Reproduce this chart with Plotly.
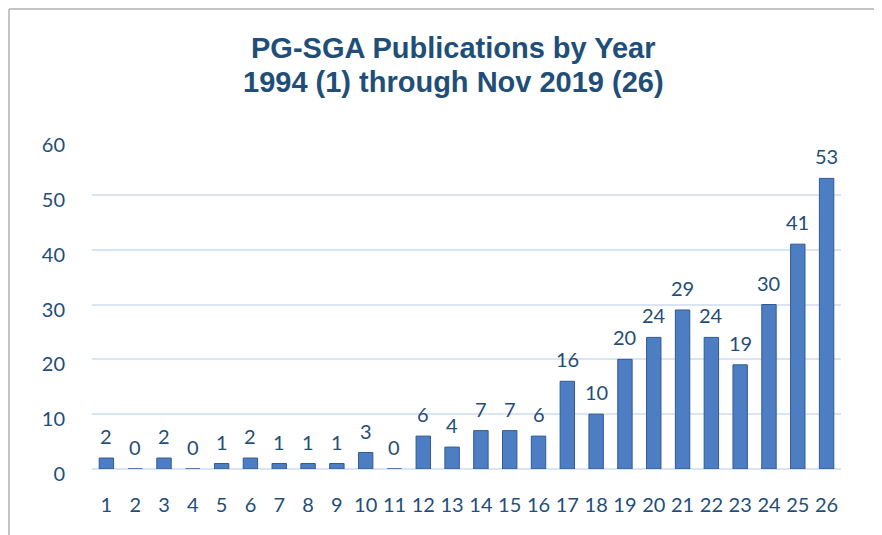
import plotly.graph_objects as go

years = list(range(1, 27))
counts = [2, 0, 2, 0, 1, 2, 1, 1, 1, 3, 0, 6, 4, 7, 7, 6, 16, 10, 20, 24, 29, 24, 19, 30, 41, 53]
y_ticks = [0, 10, 20, 30, 40, 50, 60]
title_lines = ["PG-SGA Publications by Year", "1994 (1) through Nov 2019 (26)"]

TXT = "#1F4E79"
# page body has an 8px margin, so the figure is drawn 8px in from the window corner
W, H = 874, 527
L, R, T, B = 84, 41, 132, 66
pw, ph = W - L - R, H - T - B

fig = go.Figure()
fig.add_trace(go.Bar(
    x=years, y=counts,
    marker=dict(color="#4D7EC3", line=dict(color="#2F5A92", width=1)),
    width=0.5,
    hoverinfo="x+y",
))

for x, v in zip(years, counts):
    fig.add_annotation(x=x, y=v, text=str(v), showarrow=False,
                       yanchor="middle", yshift=22,
                       font=dict(family="Lato", size=20, color=TXT))

def px2x(p):
    return (p - L) / pw

def px2y(p):
    return (H - B - p) / ph

for i, line in enumerate(title_lines):
    fig.add_annotation(text="<b>%s</b>" % line, xref="paper", yref="paper",
                       x=px2x(445), y=px2y(40 + 34 * i), xanchor="center", yanchor="middle",
                       showarrow=False,
                       font=dict(family="Liberation Sans", size=29, color=TXT))

fig.add_shape(type="line", xref="paper", yref="paper",
              x0=px2x(1), x1=px2x(1), y0=px2y(H), y1=px2y(1),
              line=dict(color="#C4C4C4", width=2))
fig.add_shape(type="line", xref="paper", yref="paper",
              x0=px2x(1), x1=px2x(W), y0=px2y(1), y1=px2y(1),
              line=dict(color="#C4C4C4", width=2))

fig.update_layout(
    width=W, height=H,
    margin=dict(l=L, r=R, t=T, b=B),
    paper_bgcolor="white", plot_bgcolor="white",
    showlegend=False,
    xaxis=dict(range=[0.5, 26.5], tickvals=years, showgrid=False, zeroline=False, showline=False,
               tickfont=dict(family="Lato", size=20, color=TXT),
               ticks="", ticklabelstandoff=22),
    yaxis=dict(range=[0, 60], tickvals=y_ticks, showgrid=True,
               gridcolor="#DAE5F3", gridwidth=2, zeroline=True,
               zerolinecolor="#DAE5F3", zerolinewidth=2, showline=False,
               tickfont=dict(family="Lato", size=20, color=TXT),
               ticks="", ticklabelstandoff=26, ticklabelshift=5),
    bargap=0.5,
)

fig.write_html("out.html")
